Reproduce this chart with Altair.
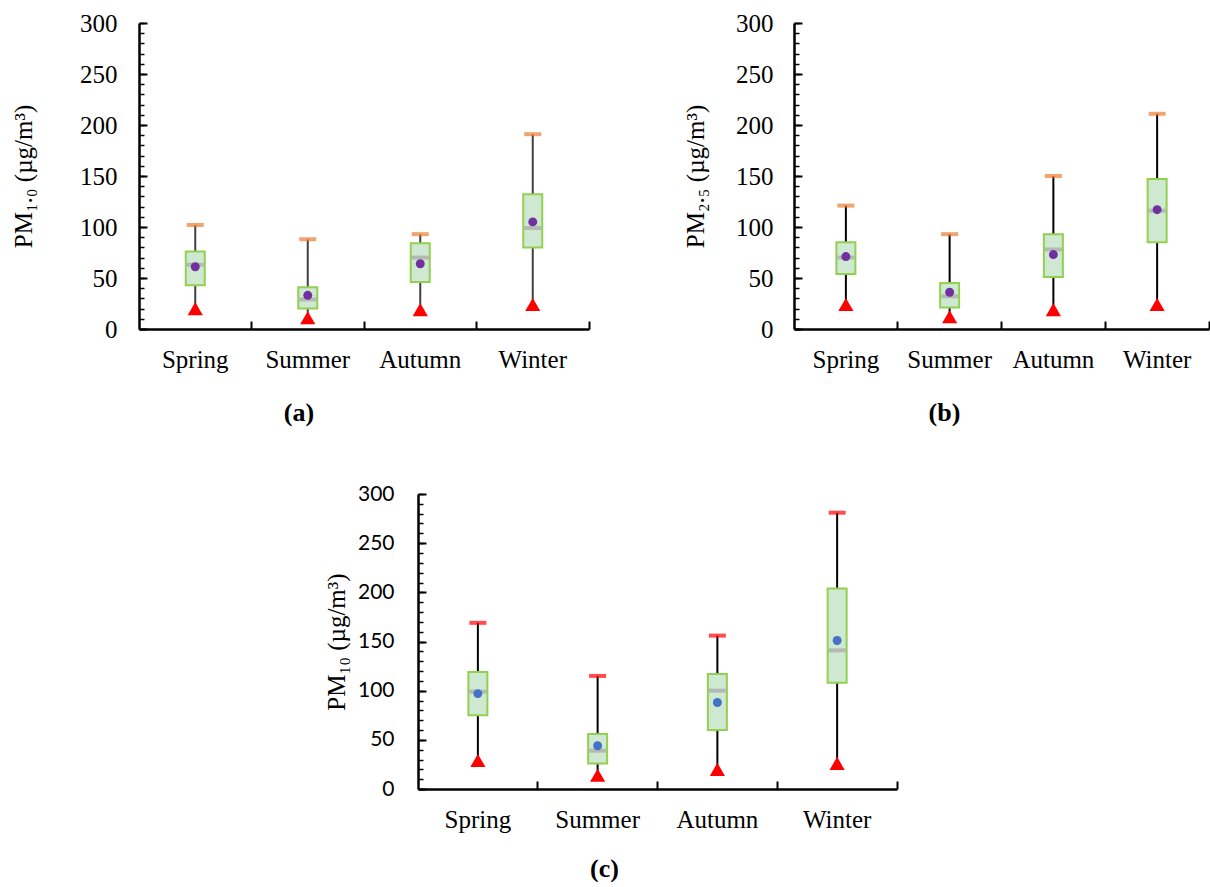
import altair as alt
import pandas as pd

seasons = ["Spring", "Summer", "Autumn", "Winter"]

pm1_min = [20, 11, 19, 24]
pm1_q1 = [43, 20, 46, 80]
pm1_median = [63, 29, 70, 99]
pm1_mean = [61, 33, 64, 105]
pm1_q3 = [76, 41, 84, 132]
pm1_max = [102, 88, 93, 191]

pm25_min = [24, 12, 19, 24]
pm25_q1 = [54, 21, 51, 85]
pm25_median = [70, 32, 78, 116]
pm25_mean = [71, 36, 73, 117]
pm25_q3 = [85, 45, 93, 147]
pm25_max = [121, 93, 150, 211]

pm10_min = [29, 14, 20, 26]
pm10_q1 = [75, 26, 60, 108]
pm10_median = [99, 39, 100, 141]
pm10_mean = [97, 44, 88, 151]
pm10_q3 = [119, 56, 117, 204]
pm10_max = [169, 115, 156, 281]

major_ticks = [0, 50, 100, 150, 200, 250, 300]
minor_ticks = list(range(0, 301, 10))

SERIF = "Liberation Serif"


def make_df(mn, q1, med, mean, q3, mx):
    return pd.DataFrame({"season": seasons, "min": mn, "q1": q1, "median": med,
                         "mean": mean, "q3": q3, "max": mx})


def panel(df, W, H, ytitle, label, mean_color, max_color, tick_font, tick_fs,
          ylab_pad, ytitle_pad, xlab_pad, title_dx, title_offset, whisker_color):
    xs = alt.Scale(type="band", domain=seasons, paddingInner=0, paddingOuter=0)
    ys = alt.Scale(domain=[0, 300], nice=False, zero=True)
    base = alt.Chart(df)

    x_main = alt.X("season:N", scale=xs, sort=seasons, axis=alt.Axis(
        orient="bottom", ticks=False, domain=True, domainColor="black", domainWidth=2.5,
        labelFont=SERIF, labelFontSize=25, labelColor="black", labelAngle=0,
        labelPadding=xlab_pad, title=None, grid=False))
    y_main = alt.Y("min:Q", scale=ys, axis=alt.Axis(
        orient="left", values=major_ticks, ticks=False, domain=True, domainColor="black",
        domainWidth=2.5, labelFont=tick_font, labelFontSize=tick_fs, labelColor="black",
        labelPadding=ylab_pad, title=ytitle, titleFont=SERIF, titleFontSize=25,
        titleFontWeight="normal", titleColor="black", titlePadding=ytitle_pad, grid=False))

    whisker = base.mark_rule(color=whisker_color, strokeWidth=2).encode(
        x=x_main, y=y_main, y2="max:Q")

    x_ticks = alt.X("season:N", scale=xs, sort=seasons, axis=alt.Axis(
        orient="top", offset=-H, labels=False, domain=False, ticks=True, tickSize=8,
        tickWidth=2, tickColor="black", bandPosition=1, title=None, grid=False))
    y_major = alt.Y("q1:Q", scale=ys, axis=alt.Axis(
        orient="right", offset=-W, values=major_ticks, labels=False, domain=False,
        ticks=True, tickSize=8, tickWidth=2, tickColor="black", title=None, grid=False))
    box = base.mark_bar(size=19, fill="#cfe8d2", stroke="#92d050", strokeWidth=2).encode(
        x=x_ticks, y=y_major, y2="q3:Q")

    x_none = alt.X("season:N", scale=xs, sort=seasons, axis=None)
    y_minor = alt.Y("median:Q", scale=ys, axis=alt.Axis(
        orient="right", offset=-W, values=minor_ticks, labels=False, domain=False,
        ticks=True, tickSize=5, tickWidth=1.5, tickColor="black", title=None, grid=False))
    median = base.mark_tick(color="#a6a6a6", thickness=4, size=17).encode(
        x=x_none, y=y_minor)

    cap = base.mark_tick(color=max_color, thickness=4, size=17).encode(
        x=x_none, y=alt.Y("max:Q", scale=ys, axis=None))
    mean = base.mark_circle(color=mean_color, size=80, opacity=1).encode(
        x=x_none, y=alt.Y("mean:Q", scale=ys, axis=None))
    tri = base.mark_point(shape="triangle-up", filled=True, color="#ff0000", size=230,
                          opacity=1).encode(
        x=x_none, y=alt.Y("min:Q", scale=ys, axis=None))

    return alt.layer(whisker, box, median, cap, tri, mean).resolve_axis(
        x="independent", y="independent").properties(
        width=W, height=H,
        title=alt.TitleParams(label, orient="bottom", anchor="middle", frame="group",
                              font=SERIF, fontSize=26, fontWeight="bold", color="black",
                              dx=title_dx, offset=title_offset))


pa = panel(make_df(pm1_min, pm1_q1, pm1_median, pm1_mean, pm1_q3, pm1_max),
           450, 306, "PM₁.₀ (µg/m³)", "(a)", "#7030a0", "#ed7d31", SERIF, 25,
           22, 43, 18, -65, 28, "#404040")
pb = panel(make_df(pm25_min, pm25_q1, pm25_median, pm25_mean, pm25_q3, pm25_max),
           415, 306, "PM₂.₅ (µg/m³)", "(b)", "#7030a0", "#ed7d31", SERIF, 25,
           21, 27, 18, -57, 28, "black")
pc = panel(make_df(pm10_min, pm10_q1, pm10_median, pm10_mean, pm10_q3, pm10_max),
           479, 295, "PM₁₀ (µg/m³)", "(c)", "#4472c4", "#ff0000", "Lato", 21,
           24, 8, 18, -53, 24, "black")

spacer = alt.Chart(pd.DataFrame({"v": [0]})).mark_point(opacity=0).encode(
    x=alt.value(0), y=alt.value(0)).properties(width=1, height=1)

top = alt.hconcat(pa, pb, spacing=205, bounds="flush")
bottom = alt.hconcat(spacer, pc, spacing=278, bounds="flush")
chart = alt.vconcat(top, bottom, spacing=57).properties(
    padding={"left": 11, "top": 11, "right": 0, "bottom": 0},
    background="white"
).configure_view(stroke=None)

chart.save("out.html", embed_options={"renderer": "svg", "actions": False})
